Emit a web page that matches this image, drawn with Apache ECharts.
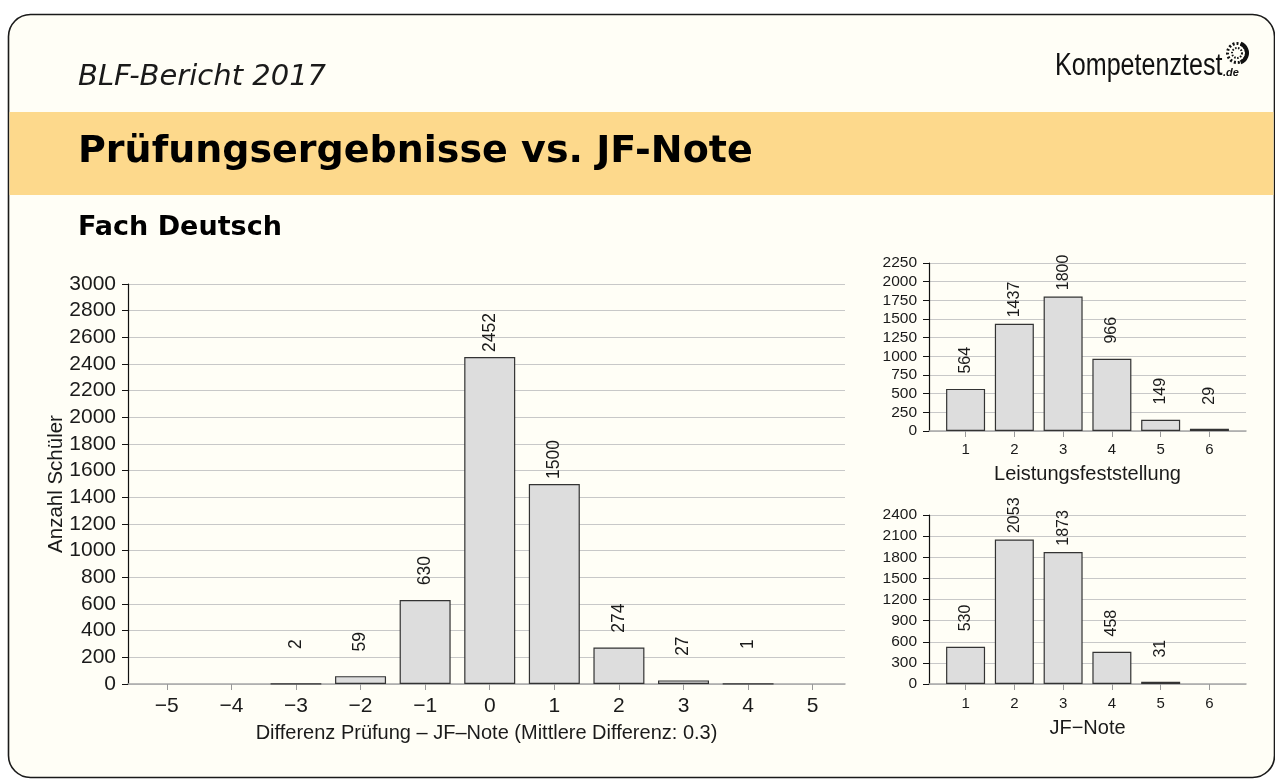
<!DOCTYPE html>
<html>
<head>
<meta charset="utf-8">
<title>Prüfungsergebnisse vs. JF-Note</title>
<script src="https://cdn.jsdelivr.net/npm/echarts@6/dist/echarts.min.js"></script>
<style>
html, body { margin: 0; padding: 0; background: #fff; }
#chart { width: 1275px; height: 780px; }
</style>
</head>
<body>
<div id="chart"></div>
<script>
// Daten
var diffCats = [-5, -4, -3, -2, -1, 0, 1, 2, 3, 4, 5];
var diffValues = [0, 0, 2, 59, 630, 2452, 1500, 274, 27, 1, 0];
var noteCats = [1, 2, 3, 4, 5, 6];
var lfValues = [564, 1437, 1800, 966, 149, 29];
var jfValues = [530, 2053, 1873, 458, 31, 0];

var textColor = '#1a1a1a';
var gridColor = '#c8c8c8';

// nur Balken mit Werten > 0 zeichnen
function pairs(cats, vals) {
    var out = [];
    cats.forEach(function (c, i) {
        if (vals[i] > 0) out.push([c, vals[i]]);
    });
    return out;
}

function minus(v) {
    return String(v).replace('-', '\u2212');
}

function plain(v) {
    return String(v);
}

function barSeries(idx, data, barWidth, fontSize, dist) {
    return {
        type: 'bar',
        xAxisIndex: idx,
        yAxisIndex: idx,
        data: data,
        barWidth: barWidth,
        itemStyle: { color: '#dddddd', borderColor: '#333', borderWidth: 1.2 },
        label: {
            show: true,
            position: 'top',
            rotate: 90,
            align: 'right',
            verticalAlign: 'middle',
            distance: dist,
            fontSize: fontSize,
            color: textColor,
            formatter: function (p) { return p.value[1]; }
        },
        animation: false
    };
}

function xAxisOpt(idx, min, max, ticks, name, opts) {
    return {
        type: 'value',
        gridIndex: idx,
        min: min,
        max: max,
        splitLine: { show: false },
        axisLine: { onZero: false, lineStyle: { color: '#a8a8a8', width: 1.5 } },
        axisTick: { customValues: ticks, length: 6, lineStyle: { color: '#999' } },
        axisLabel: {
            customValues: ticks, formatter: minus,
            fontSize: opts.labelSize, margin: opts.labelMargin, color: textColor
        },
        name: name,
        nameLocation: 'middle',
        nameGap: opts.nameGap,
        nameMoveOverlap: false,
        nameTextStyle: { fontSize: opts.nameSize, color: textColor }
    };
}

function yAxisOpt(idx, max, interval, opts) {
    return {
        type: 'value',
        gridIndex: idx,
        min: 0,
        max: max,
        interval: interval,
        axisLine: { show: true, onZero: false, lineStyle: { color: '#111', width: 1.2 } },
        axisTick: { show: true, length: 6, lineStyle: { color: '#111' } },
        axisLabel: { formatter: plain, fontSize: opts.labelSize, margin: 12, color: textColor },
        splitLine: { lineStyle: { color: gridColor, width: 1.2 } },
        name: opts.name || '',
        nameLocation: 'middle',
        nameGap: opts.nameGap || 0,
        nameMoveOverlap: false,
        nameTextStyle: { fontSize: opts.nameSize || 12, color: textColor }
    };
}

var chart = echarts.init(document.getElementById('chart'));

var option = {
    animation: false,
    textStyle: { fontFamily: 'Liberation Sans, Arial, sans-serif' },
    grid: [
        { left: 128, top: 284, width: 717, height: 400 },
        { left: 929, top: 263, width: 317, height: 168 },
        { left: 929, top: 515, width: 317, height: 169 }
    ],
    xAxis: [
        xAxisOpt(0, -5.6, 5.5, diffCats, 'Differenz Prüfung \u2013 JF\u2013Note (Mittlere Differenz: 0.3)',
            { labelSize: 21, labelMargin: 12, nameGap: 39, nameSize: 20 }),
        xAxisOpt(1, 0.25, 6.75, noteCats, 'Leistungsfeststellung',
            { labelSize: 15, labelMargin: 11, nameGap: 33, nameSize: 20 }),
        xAxisOpt(2, 0.25, 6.75, noteCats, 'JF\u2212Note',
            { labelSize: 15, labelMargin: 12, nameGap: 34, nameSize: 20 })
    ],
    yAxis: [
        yAxisOpt(0, 3000, 200, { labelSize: 21, name: 'Anzahl Schüler', nameGap: 61, nameSize: 20.5 }),
        yAxisOpt(1, 2250, 250, { labelSize: 15.5 }),
        yAxisOpt(2, 2400, 300, { labelSize: 15.5 })
    ],
    series: [
        barSeries(0, pairs(diffCats, diffValues), 51, 17.5, 44),
        barSeries(1, pairs(noteCats, lfValues), 39, 16, 42),
        barSeries(2, pairs(noteCats, jfValues), 39, 16, 42)
    ],
    graphic: [
        // Hintergrund und Rahmen
        {
            type: 'rect', z: -100,
            shape: { x: 8.5, y: 14.5, width: 1266, height: 763, r: 22 },
            style: { fill: '#fffef6', stroke: '#1a1a1a', lineWidth: 1.6 }
        },
        {
            type: 'rect', z: -99,
            shape: { x: 9.5, y: 112, width: 1264, height: 83 },
            style: { fill: '#fdd98c' }
        },
        {
            type: 'text', z: 10, x: 78, y: 77,
            style: {
                text: 'BLF-Bericht 2017', fill: textColor, verticalAlign: 'middle',
                font: 'oblique 29px "DejaVu Sans"'
            }
        },
        {
            type: 'text', z: 10, x: 78, y: 152,
            style: {
                text: 'Prüfungsergebnisse vs. JF-Note', fill: '#000', verticalAlign: 'middle',
                font: 'bold 38px "DejaVu Sans"'
            }
        },
        {
            type: 'text', z: 10, x: 78, y: 228,
            style: {
                text: 'Fach Deutsch', fill: '#000', verticalAlign: 'middle',
                font: 'bold 27px "DejaVu Sans"'
            }
        },
        // Logo
        {
            type: 'text', z: 10, x: 1055, y: 66, scaleX: 0.81,
            style: {
                text: 'Kompetenztest', fill: '#111', verticalAlign: 'middle',
                font: '31px "Liberation Sans"'
            }
        },
        {
            type: 'text', z: 10, x: 1223, y: 73,
            style: {
                text: '.de', fill: '#111', verticalAlign: 'middle',
                font: 'italic bold 11px "Liberation Sans"'
            }
        },
        {
            type: 'circle', z: 10,
            shape: { cx: 1237, cy: 53, r: 9.5 },
            style: { fill: 'none', stroke: '#111', lineWidth: 3, lineDash: [2, 2] }
        },
        {
            type: 'circle', z: 10,
            shape: { cx: 1237, cy: 53, r: 5 },
            style: { fill: 'none', stroke: '#111', lineWidth: 2, lineDash: [1.5, 1.5] }
        },
        {
            type: 'arc', z: 10,
            shape: { cx: 1237, cy: 53, r: 10, startAngle: -1.2, endAngle: 1.2 },
            style: { fill: 'none', stroke: '#111', lineWidth: 4 }
        }
    ]
};

chart.setOption(option);
</script>
</body>
</html>
